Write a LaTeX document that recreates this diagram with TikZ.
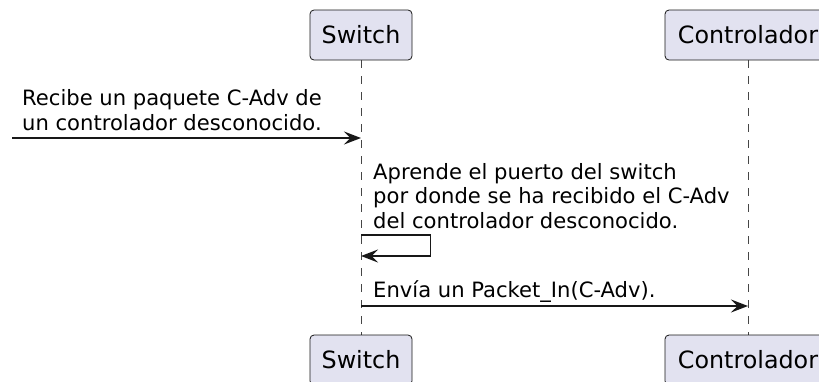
\documentclass[tikz,border=0pt]{standalone}
\usepackage{fontspec}
\setmainfont{DejaVu Sans}
\usetikzlibrary{arrows.meta}
\definecolor{partfill}{HTML}{E2E2F0}
\definecolor{partline}{HTML}{181818}
\definecolor{msgtext}{HTML}{000000}
\tikzset{
  participant/.style={draw=partline, line width=0.8pt, fill=partfill,
    rounded corners=4pt, minimum height=50pt, inner sep=0pt,
    font=\fontsize{23.8}{28}\selectfont, text=msgtext},
  lifeline/.style={draw=partline!80, line width=0.8pt, dash pattern=on 8pt off 8pt},
  message/.style={draw=partline, line width=1.5pt,
    -{Stealth[length=17pt,width=13pt,inset=6.5pt]}},
  msglabel/.style={anchor=base west, inner sep=0pt, align=left,
    font=\fontsize{21.1}{24.3}\selectfont, text=msgtext}
}
\begin{document}
\begin{tikzpicture}[x=1pt,y=-1pt]
  \useasboundingbox (0,0) rectangle (819,381);
  \clip (0,0) rectangle (819,381);
  % lifelines
  \coordinate (swtop) at (361,60);
  \coordinate (swbot) at (361,335);
  \coordinate (cttop) at (748,60);
  \coordinate (ctbot) at (748,335);
  \draw[lifeline] (swtop) -- (swbot);
  \draw[lifeline] (cttop) -- (ctbot);
  % participants, top and bottom
  \node[participant, minimum width=102pt] (sw1) at (361,35) {Switch};
  \node[participant, minimum width=166pt] (ct1) at (748,35) {Controlador};
  \node[participant, minimum width=102pt] (sw2) at (361,360) {Switch};
  \node[participant, minimum width=166pt] (ct2) at (748,360) {Controlador};
  % incoming message from the left edge (base = last line)
  \coordinate (src) at (12,138);
  \coordinate (in1) at (361,138);
  \draw[message] (src) -- (in1);
  \node[msglabel] (l1) at (22,130) {Recibe un paquete C-Adv de\\un controlador desconocido.};
  % self message on the switch
  \coordinate (s1) at (361,235);
  \coordinate (s2) at (430.5,235);
  \coordinate (s3) at (430.5,256);
  \coordinate (s4) at (361,256);
  \draw[message] (s1) -- (s2) -- (s3) -- (s4);
  \node[msglabel] (l2) at (373,228) {Aprende el puerto del switch\\por donde se ha recibido el C-Adv\\del controlador desconocido.};
  % switch to controller
  \coordinate (o1) at (361,306);
  \coordinate (o2) at (748,306);
  \draw[message] (o1) -- (o2);
  \node[msglabel] (l3) at (373,297) {Envía un Packet\_In(C-Adv).};
\end{tikzpicture}
\end{document}
